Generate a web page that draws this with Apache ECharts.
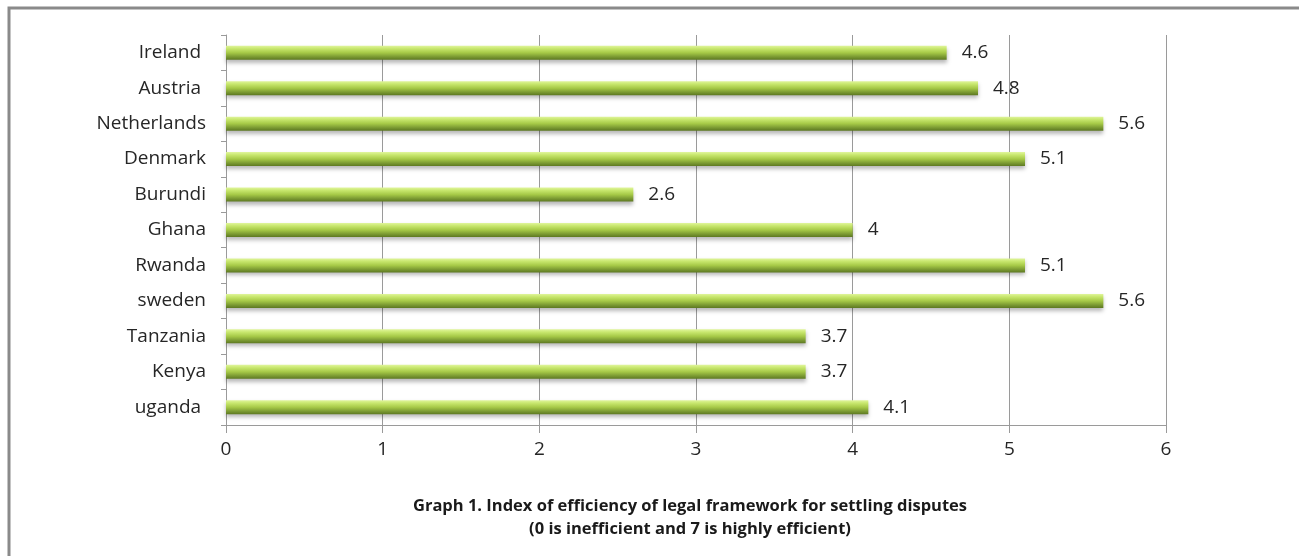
<!DOCTYPE html>
<html>
<head>
<meta charset="utf-8">
<script src="https://cdn.jsdelivr.net/npm/echarts@6/dist/echarts.min.js"></script>
<style>
  html, body { margin: 0; padding: 0; background: #fff; }
  #chart { width: 1299px; height: 556px; }
</style>
</head>
<body>
<div id="chart"></div>
<script>
// Countries, top to bottom
const countries = ['Ireland ', 'Austria ', 'Netherlands', 'Denmark', 'Burundi', 'Ghana', 'Rwanda', 'sweden', 'Tanzania', 'Kenya', 'uganda '];
// Efficiency index per country (0 = inefficient, 7 = highly efficient)
const indexValues = [4.6, 4.8, 5.6, 5.1, 2.6, 4, 5.1, 5.6, 3.7, 3.7, 4.1];
const xTicks = [0, 1, 2, 3, 4, 5, 6];
const titleLines = [
  'Graph 1. Index of efficiency of legal framework for settling disputes',
  '(0 is inefficient and 7 is highly efficient)'
];

const font = '"Open Sans", Lato, sans-serif';
const textColor = '#262626';

const chart = echarts.init(document.getElementById('chart'), null, { renderer: 'canvas' });

chart.setOption({
  backgroundColor: '#ffffff',
  animation: false,
  title: {
    text: titleLines.join('\n'),
    left: 685,
    top: 490,
    textAlign: 'center',
    textStyle: {
      fontFamily: font,
      fontSize: 16.5,
      fontWeight: 'bold',
      color: '#1a1a1a',
      lineHeight: 23
    }
  },
  graphic: [{
    type: 'rect',
    shape: { x: 9, y: 8, width: 1400, height: 700 },
    style: { fill: 'none', stroke: '#8a8a8a', lineWidth: 3 },
    silent: true
  }],
  grid: { left: 226, right: 133, top: 35, bottom: 131, containLabel: false },
  xAxis: {
    type: 'value',
    min: xTicks[0],
    max: xTicks[xTicks.length - 1],
    interval: 1,
    axisLine: { show: true, lineStyle: { color: '#9a9a9a', width: 1 } },
    axisTick: { show: true, length: 8, lineStyle: { color: '#9a9a9a' } },
    splitLine: { show: true, lineStyle: { color: '#9a9a9a', width: 1 } },
    axisLabel: { margin: 15, fontFamily: font, fontSize: 19, color: textColor }
  },
  yAxis: {
    type: 'category',
    inverse: true,
    data: countries,
    axisLine: { show: true, lineStyle: { color: '#9a9a9a', width: 1 } },
    axisTick: { show: true, length: 5, lineStyle: { color: '#9a9a9a' } },
    axisLabel: { margin: 20, fontFamily: font, fontSize: 19, color: textColor }
  },
  series: [{
    type: 'bar',
    data: indexValues,
    barWidth: 14,
    itemStyle: {
      color: new echarts.graphic.LinearGradient(0, 0, 0, 1, [
        { offset: 0, color: '#e0f59c' },
        { offset: 0.2, color: '#c8e76e' },
        { offset: 0.5, color: '#a6c947' },
        { offset: 0.78, color: '#7c9b33' },
        { offset: 1, color: '#5d7821' }
      ]),
      shadowColor: 'rgba(0,0,0,0.28)',
      shadowBlur: 4,
      shadowOffsetY: 3
    },
    label: {
      show: true,
      position: 'right',
      distance: 15,
      fontFamily: font,
      fontSize: 19,
      color: textColor
    }
  }]
});
</script>
</body>
</html>
